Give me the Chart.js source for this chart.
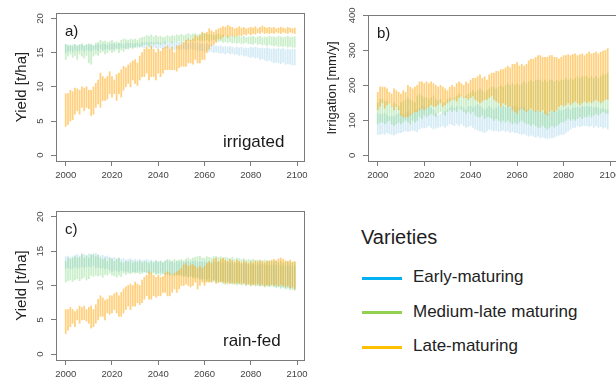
<!DOCTYPE html>
<html>
<head>
<meta charset="utf-8">
<script src="https://cdn.jsdelivr.net/npm/chart.js@4.4.1/dist/chart.umd.min.js"></script>
<style>
  html, body { margin: 0; padding: 0; background: #fff; }
  body { width: 616px; height: 382px; overflow: hidden; position: relative;
         font-family: Arial, "Liberation Sans", sans-serif; }
  canvas.panel { position: absolute; }
  .leg-title { position: absolute; left: 361px; top: 226px; font-size: 20px; line-height: 22px; color: #1e1e1e; }
  .leg-line  { position: absolute; left: 362px; width: 40px; height: 3px; }
  .leg-text  { position: absolute; left: 413px; font-size: 17px; line-height: 20px; color: #222; white-space: nowrap; }
</style>
</head>
<body>
<canvas id="panel-a" class="panel" width="310" height="190" style="left:0;top:0"></canvas>
<canvas id="panel-b" class="panel" width="310" height="190" style="left:310px;top:0"></canvas>
<canvas id="panel-c" class="panel" width="310" height="192" style="left:0;top:190px"></canvas>
<div id="legend"></div>

<script>
'use strict';

/* ── categories / ticks ── */
const YEARS = [];
for (let y = 2000; y <= 2099; y++) YEARS.push(y);
const X_TICKS     = [2000, 2020, 2040, 2060, 2080, 2100];
const YIELD_TICKS = [0, 5, 10, 15, 20];
const IRR_TICKS   = [0, 100, 200, 300, 400];
const VARIETIES   = ['Early-maturing', 'Medium-late maturing', 'Late-maturing'];

/* ── a) irrigated yield [t/ha], one row per decade ── */
const A_LATE_LO = [
  4.2, 4.5, 5.0, 5.2, 6.0, 6.5, 6.0, 7.0, 6.5, 7.0,
  6.8, 5.8, 6.0, 7.0, 7.5, 7.0, 8.0, 8.0, 8.2, 9.0,
  8.5, 9.0, 8.0, 9.0, 8.5, 9.5, 10.0, 10.5, 10.0, 11.0,
  10.5, 10.2, 11.0, 11.5, 11.5, 12.0, 11.0, 11.5, 11.5, 11.0,
  12.0, 11.5, 12.0, 12.5, 12.5, 12.5, 12.5, 12.5, 12.3, 12.8,
  13.0, 13.0, 13.0, 13.5, 13.5, 13.3, 14.0, 13.5, 13.5, 14.0,
  14.0, 15.0, 15.5, 16.0, 16.2, 16.5, 17.0, 17.0, 17.3, 17.5,
  17.2, 17.5, 17.5, 17.3, 17.5, 17.6, 17.5, 17.7, 17.6, 17.8,
  17.6, 17.8, 17.7, 17.9, 17.8, 18.0, 17.8, 17.9, 17.8, 17.9,
  17.8, 18.0, 17.9, 17.8, 18.0, 17.9, 17.8, 18.0, 17.9, 17.8
];
const A_LATE_HI = [
  9.0, 9.0, 9.5, 9.3, 9.8, 9.7, 9.5, 10.0, 9.8, 10.0,
  9.5, 9.5, 10.0, 10.5, 11.0, 12.0, 11.5, 11.2, 11.5, 12.2,
  11.5, 11.0, 11.8, 12.0, 12.5, 13.0, 12.8, 13.2, 13.5, 13.8,
  14.0, 13.5, 14.5, 15.0, 15.5, 15.8, 15.5, 16.0, 15.5, 15.0,
  15.5, 15.2, 15.6, 15.8, 16.0, 15.5, 15.8, 15.0, 16.0, 16.0,
  16.2, 16.5, 16.8, 17.0, 16.8, 17.0, 17.5, 17.3, 17.5, 18.0,
  17.8, 18.0, 18.5, 18.2, 18.0, 18.3, 18.5, 18.6, 18.8, 18.7,
  19.0, 18.8, 18.7, 18.5, 18.6, 18.8, 18.6, 18.7, 18.5, 18.6,
  18.7, 18.6, 18.8, 18.5, 18.7, 18.9, 18.7, 18.6, 18.7, 18.6,
  18.7, 18.5, 18.6, 18.7, 18.6, 18.5, 18.7, 18.6, 18.5, 18.6
];
const A_MED_LO = [
  14.0, 14.5, 14.8, 14.3, 14.6, 14.0, 14.8, 14.5, 14.2, 14.6,
  13.5, 13.3, 14.5, 14.8, 14.6, 15.0, 15.2, 14.8, 15.0, 15.3,
  15.0, 15.2, 15.5, 15.0, 15.4, 15.2, 15.6, 15.5, 15.8, 15.6,
  15.8, 16.0, 15.8, 16.0, 16.2, 16.2, 16.0, 16.3, 16.2, 16.4,
  16.3, 16.2, 16.5, 16.3, 16.6, 16.5, 16.4, 16.6, 16.5, 16.7,
  16.5, 16.7, 16.6, 16.8, 16.7, 16.8, 16.7, 16.9, 16.8, 16.8,
  16.8, 16.9, 16.7, 16.8, 16.9, 16.8, 16.6, 16.7, 16.5, 16.6,
  16.5, 16.6, 16.4, 16.5, 16.4, 16.5, 16.3, 16.4, 16.5, 16.3,
  16.3, 16.2, 16.4, 16.2, 16.3, 16.1, 16.2, 16.0, 16.2, 16.1,
  16.0, 16.1, 15.9, 16.0, 15.9, 16.0, 15.8, 15.9, 15.8, 15.8
];
const A_MED_HI = [
  16.2, 16.0, 16.1, 15.9, 16.2, 16.0, 16.1, 16.3, 16.0, 16.2,
  16.3, 16.2, 16.0, 16.4, 16.5, 16.8, 16.6, 16.7, 16.5, 16.6,
  16.8, 16.5, 16.6, 16.4, 16.8, 17.0, 16.9, 16.8, 17.0, 16.9,
  17.0, 16.8, 17.1, 17.2, 17.3, 17.5, 17.4, 17.6, 17.3, 17.5,
  17.3, 17.4, 17.2, 17.3, 17.5, 17.3, 17.5, 17.4, 17.6, 17.5,
  17.7, 17.5, 17.6, 17.8, 17.6, 17.7, 17.8, 17.6, 17.7, 17.8,
  17.8, 17.7, 17.6, 17.7, 17.5, 17.6, 17.7, 17.5, 17.6, 17.4,
  17.5, 17.4, 17.5, 17.3, 17.4, 17.5, 17.3, 17.4, 17.2, 17.3,
  17.3, 17.4, 17.2, 17.3, 17.4, 17.2, 17.3, 17.2, 17.4, 17.3,
  17.3, 17.2, 17.4, 17.3, 17.2, 17.3, 17.4, 17.2, 17.3, 17.3
];
const A_EARLY_LO = [
  15.0, 15.2, 15.3, 15.1, 15.4, 15.2, 15.3, 15.5, 15.2, 15.4,
  15.3, 15.2, 15.4, 15.5, 15.3, 15.6, 15.4, 15.5, 15.6, 15.5,
  15.6, 15.5, 15.7, 15.6, 15.8, 15.7, 15.6, 15.8, 15.7, 15.8,
  15.8, 15.7, 15.9, 15.8, 15.7, 15.9, 15.8, 15.6, 15.8, 15.7,
  15.6, 15.7, 15.5, 15.6, 15.7, 15.5, 15.6, 15.4, 15.6, 15.5,
  15.5, 15.6, 15.4, 15.5, 15.6, 15.4, 15.5, 15.3, 15.4, 15.3,
  15.2, 15.3, 15.1, 15.2, 15.0, 15.1, 15.0, 14.9, 15.0, 14.8,
  15.0, 14.8, 14.9, 14.7, 14.8, 14.6, 14.7, 14.5, 14.6, 14.4,
  14.3, 14.4, 14.2, 14.3, 14.0, 14.1, 13.9, 13.8, 13.9, 13.7,
  13.5, 13.6, 13.5, 13.4, 13.6, 13.3, 13.4, 13.3, 13.2, 13.2
];
const A_EARLY_HI = [
  16.2, 16.1, 16.0, 16.2, 16.1, 16.0, 16.2, 16.1, 16.0, 16.1,
  16.1, 16.2, 16.0, 16.1, 16.2, 16.1, 16.3, 16.2, 16.1, 16.3,
  16.2, 16.3, 16.2, 16.4, 16.3, 16.2, 16.4, 16.3, 16.4, 16.3,
  16.3, 16.4, 16.3, 16.5, 16.4, 16.5, 16.4, 16.5, 16.4, 16.5,
  16.5, 16.4, 16.5, 16.6, 16.5, 16.4, 16.6, 16.5, 16.4, 16.5,
  16.5, 16.4, 16.5, 16.3, 16.4, 16.5, 16.3, 16.4, 16.2, 16.3,
  16.2, 16.3, 16.1, 16.2, 16.0, 16.0, 15.9, 16.0, 15.8, 15.9,
  15.8, 15.9, 15.8, 15.7, 15.8, 15.7, 15.8, 15.6, 15.7, 15.6,
  15.8, 15.7, 15.8, 15.7, 15.6, 15.7, 15.6, 15.7, 15.6, 15.5,
  15.6, 15.5, 15.6, 15.5, 15.6, 15.4, 15.5, 15.4, 15.5, 15.5
];

/* ── b) irrigation [mm/y] ── */
const B_LATE_LO = [
  130, 140, 150, 135, 145, 150, 140, 130, 140, 130,
  115, 110, 110, 110, 115, 120, 125, 125, 130, 135,
  130, 135, 140, 145, 140, 140, 145, 150, 140, 145,
  150, 155, 160, 160, 155, 165, 170, 165, 165, 160,
  165, 170, 160, 155, 150, 155, 160, 160, 165, 170,
  160, 155, 150, 140, 150, 145, 140, 140, 130, 125,
  120, 130, 135, 130, 125, 130, 135, 130, 125, 130,
  125, 130, 120, 115, 125, 130, 125, 130, 140, 145,
  140, 145, 150, 145, 150, 155, 150, 145, 150, 155,
  150, 155, 150, 155, 160, 155, 150, 155, 160, 160
];
const B_LATE_HI = [
  180, 195, 195, 195, 190, 180, 175, 190, 185, 180,
  175, 185, 180, 200, 195, 190, 195, 200, 210, 210,
  205, 210, 205, 210, 205, 200, 195, 200, 195, 190,
  185, 195, 200, 195, 205, 210, 205, 200, 210, 205,
  215, 220, 220, 225, 230, 220, 225, 215, 230, 235,
  235, 240, 240, 245, 245, 250, 255, 250, 260, 260,
  265, 255, 260, 255, 260, 270, 275, 275, 280, 285,
  285, 280, 280, 280, 285, 285, 280, 280, 275, 280,
  285, 285, 288, 285, 288, 290, 285, 288, 290, 285,
  290, 295, 290, 292, 295, 290, 295, 298, 300, 305
];
const B_MED_LO = [
  90, 95, 95, 90, 95, 100, 90, 85, 90, 95,
  90, 95, 100, 95, 90, 100, 95, 100, 110, 105,
  115, 110, 115, 120, 115, 110, 120, 125, 120, 115,
  125, 130, 125, 130, 125, 135, 130, 125, 120, 125,
  120, 125, 115, 110, 110, 115, 105, 110, 110, 105,
  100, 105, 100, 95, 100, 95, 100, 95, 90, 95,
  90, 95, 100, 95, 90, 90, 85, 90, 85, 80,
  80, 85, 80, 75, 80, 85, 80, 85, 90, 95,
  95, 100, 105, 100, 105, 100, 105, 110, 105, 110,
  110, 115, 110, 115, 120, 115, 120, 125, 120, 120
];
const B_MED_HI = [
  150, 160, 160, 155, 155, 150, 140, 150, 145, 140,
  150, 155, 160, 165, 160, 155, 150, 170, 175, 170,
  165, 165, 160, 165, 170, 160, 155, 160, 150, 150,
  160, 165, 160, 165, 170, 175, 170, 165, 170, 175,
  180, 185, 180, 185, 190, 185, 180, 185, 190, 195,
  195, 190, 195, 200, 195, 200, 205, 200, 205, 200,
  205, 200, 205, 210, 205, 210, 215, 210, 215, 215,
  215, 210, 215, 210, 215, 215, 210, 215, 210, 215,
  215, 220, 215, 220, 215, 220, 225, 220, 225, 225,
  225, 220, 225, 220, 225, 220, 225, 230, 230, 235
];
const B_EARLY_LO = [
  60, 60, 62, 60, 65, 62, 60, 58, 62, 65,
  65, 68, 70, 68, 70, 72, 70, 68, 75, 80,
  78, 80, 85, 80, 75, 78, 80, 82, 85, 80,
  85, 90, 88, 85, 90, 85, 90, 85, 80, 82,
  85, 80, 75, 72, 70, 68, 65, 70, 75, 72,
  70, 72, 68, 70, 72, 68, 70, 65, 68, 65,
  65, 62, 60, 62, 58, 55, 58, 55, 52, 55,
  50, 52, 50, 48, 50, 50, 52, 55, 58, 60,
  60, 65, 70, 75, 80, 80, 85, 82, 85, 85,
  85, 82, 85, 80, 85, 80, 82, 78, 80, 75
];
const B_EARLY_HI = [
  120, 115, 118, 120, 115, 110, 112, 110, 115, 120,
  118, 115, 120, 125, 120, 118, 125, 130, 135, 140,
  140, 135, 140, 135, 130, 120, 115, 118, 120, 125,
  130, 135, 140, 135, 140, 135, 140, 135, 130, 140,
  140, 135, 140, 145, 140, 135, 130, 135, 140, 135,
  130, 135, 140, 135, 140, 138, 140, 135, 140, 138,
  140, 135, 138, 135, 132, 130, 128, 130, 125, 128,
  125, 122, 125, 120, 122, 125, 128, 125, 130, 128,
  130, 132, 135, 130, 135, 135, 138, 135, 140, 138,
  140, 138, 140, 135, 138, 135, 132, 135, 130, 130
];

/* ── c) rain-fed yield [t/ha] ── */
const C_LATE_LO = [
  3.0, 3.5, 4.0, 4.5, 4.0, 5.0, 4.5, 5.0, 5.0, 4.8,
  4.5, 3.8, 4.0, 4.5, 5.0, 5.5, 5.5, 5.0, 6.0, 5.8,
  6.0, 6.5, 6.0, 5.5, 5.5, 6.0, 6.5, 7.0, 6.5, 7.0,
  7.0, 7.5, 7.2, 7.5, 8.0, 8.5, 8.0, 8.0, 8.5, 8.3,
  8.5, 8.5, 9.0, 9.0, 8.5, 8.5, 9.0, 9.5, 9.0, 9.5,
  10.0, 10.0, 10.2, 10.0, 9.8, 10.0, 10.5, 9.5, 10.0, 10.5,
  10.0, 10.5, 10.5, 10.5, 10.8, 10.3, 10.5, 10.6, 10.5, 10.2,
  10.5, 10.3, 10.4, 10.2, 10.5, 10.3, 10.2, 10.4, 10.1, 10.3,
  10.0, 10.2, 10.1, 10.3, 10.0, 10.2, 9.9, 10.1, 10.0, 10.2,
  10.0, 10.1, 9.9, 10.2, 10.0, 9.8, 10.0, 9.7, 9.8, 9.5
];
const C_LATE_HI = [
  6.5, 6.5, 6.8, 6.5, 6.2, 6.5, 7.0, 6.8, 7.0, 6.5,
  6.8, 7.0, 6.5, 7.2, 8.0, 8.5, 8.2, 7.8, 8.0, 8.5,
  8.5, 8.8, 9.0, 8.5, 9.0, 9.5, 9.8, 10.0, 10.2, 10.0,
  10.5, 10.2, 10.0, 10.8, 11.2, 11.5, 12.0, 11.8, 11.5, 11.2,
  11.5, 11.2, 11.3, 11.8, 12.0, 11.8, 11.5, 11.8, 12.0, 12.2,
  12.5, 13.0, 13.2, 12.8, 13.0, 13.0, 12.8, 12.5, 12.8, 12.5,
  12.8, 13.2, 13.5, 13.2, 13.8, 14.0, 13.5, 13.8, 14.0, 13.7,
  13.5, 13.8, 13.6, 13.4, 13.7, 13.5, 13.3, 13.6, 13.4, 13.2,
  13.5, 13.3, 13.6, 13.4, 13.7, 13.5, 13.3, 13.6, 13.5, 13.7,
  13.8, 13.6, 13.9, 14.0, 13.8, 13.6, 13.5, 13.7, 13.4, 13.5
];
const C_MED_LO = [
  10.5, 10.7, 10.8, 10.6, 10.8, 11.0, 10.7, 11.0, 11.2, 10.8,
  11.0, 11.5, 11.3, 11.5, 11.4, 11.5, 11.2, 11.6, 11.5, 11.8,
  11.5, 11.4, 11.2, 11.5, 11.3, 11.8, 11.6, 11.8, 11.7, 11.9,
  11.8, 11.9, 11.7, 11.8, 12.0, 11.8, 11.9, 11.7, 11.8, 11.6,
  11.7, 11.5, 11.8, 11.6, 11.7, 11.5, 11.6, 11.4, 11.6, 11.5,
  11.5, 11.3, 11.4, 11.2, 11.3, 11.2, 11.0, 11.1, 10.8, 10.9,
  10.5, 10.7, 10.6, 10.5, 10.6, 10.5, 10.4, 10.5, 10.3, 10.4,
  10.2, 10.3, 10.2, 10.3, 10.1, 10.2, 10.1, 10.2, 10.0, 10.1,
  10.0, 10.1, 9.9, 10.0, 9.9, 10.0, 9.8, 9.9, 9.8, 9.9,
  9.8, 9.7, 9.8, 9.6, 9.7, 9.5, 9.6, 9.4, 9.4, 9.3
];
const C_MED_HI = [
  13.5, 14.0, 13.8, 14.0, 14.2, 14.0, 14.1, 14.5, 14.0, 14.3,
  14.0, 14.5, 14.6, 14.2, 14.4, 14.0, 13.8, 14.0, 13.5, 14.0,
  13.8, 13.5, 13.8, 14.0, 13.4, 13.3, 13.5, 13.4, 13.6, 13.3,
  13.5, 13.4, 13.6, 13.3, 13.5, 13.4, 13.2, 13.5, 13.3, 13.6,
  13.4, 13.5, 13.3, 13.6, 13.8, 13.7, 13.5, 13.8, 13.6, 13.7,
  13.8, 13.6, 13.9, 14.0, 13.8, 14.0, 14.1, 14.2, 14.3, 14.0,
  14.0, 14.2, 14.1, 14.0, 14.2, 14.3, 14.1, 14.2, 14.0, 14.1,
  14.0, 13.9, 14.1, 13.8, 14.0, 13.9, 13.8, 13.9, 13.7, 13.8,
  13.7, 13.8, 13.6, 13.7, 13.5, 13.6, 13.7, 13.5, 13.6, 13.5,
  13.5, 13.6, 13.4, 13.5, 13.3, 13.4, 13.5, 13.3, 13.4, 13.3
];
const C_EARLY_LO = [
  12.5, 12.6, 12.4, 12.5, 12.7, 12.5, 12.6, 12.8, 12.6, 12.7,
  12.8, 12.7, 12.9, 12.6, 12.7, 12.5, 12.6, 12.4, 12.5, 12.3,
  12.0, 12.2, 12.1, 12.0, 12.2, 12.1, 12.0, 12.1, 11.9, 12.0,
  12.0, 11.9, 12.1, 12.0, 11.9, 12.0, 11.8, 11.9, 12.0, 11.8,
  11.8, 11.9, 11.7, 11.8, 11.6, 11.7, 11.5, 11.6, 11.5, 11.6,
  11.5, 11.4, 11.5, 11.3, 11.4, 11.2, 11.3, 11.1, 11.2, 11.0,
  11.0, 10.9, 11.0, 10.8, 10.9, 10.7, 10.8, 10.6, 10.7, 10.5,
  10.5, 10.6, 10.4, 10.5, 10.3, 10.4, 10.5, 10.3, 10.4, 10.2,
  10.3, 10.2, 10.3, 10.1, 10.2, 10.0, 10.1, 10.2, 10.0, 10.1,
  10.0, 9.9, 10.0, 9.8, 9.9, 9.7, 9.8, 9.6, 9.7, 9.5
];
const C_EARLY_HI = [
  14.2, 14.3, 14.1, 14.2, 14.4, 14.5, 14.3, 14.6, 14.5, 14.4,
  14.6, 14.5, 14.4, 14.7, 14.5, 14.3, 14.4, 14.2, 14.3, 14.1,
  14.0, 14.1, 13.9, 14.0, 13.8, 13.9, 13.7, 13.8, 13.9, 13.7,
  13.8, 13.7, 13.8, 13.6, 13.7, 13.8, 13.6, 13.7, 13.5, 13.6,
  13.5, 13.6, 13.4, 13.5, 13.6, 13.4, 13.5, 13.3, 13.5, 13.4,
  13.5, 13.4, 13.6, 13.5, 13.4, 13.5, 13.6, 13.4, 13.5, 13.4,
  13.5, 13.4, 13.3, 13.5, 13.4, 13.3, 13.4, 13.2, 13.3, 13.4,
  13.3, 13.2, 13.3, 13.1, 13.2, 13.3, 13.1, 13.2, 13.0, 13.1,
  13.0, 13.1, 13.0, 12.9, 13.0, 13.1, 12.9, 13.0, 12.9, 13.0,
  13.0, 12.9, 13.0, 12.8, 12.9, 12.8, 12.9, 12.7, 12.8, 12.8
];

/* ── estilos ── */
const FONT = 'Arial, "Liberation Sans", sans-serif';
const BAR_COLORS    = ['rgba(150,205,230,0.40)', 'rgba(130,215,130,0.42)', 'rgba(255,170,20,0.55)'];
const LEGEND_COLORS = ['#00b0f0', '#92d050', '#ffc000'];
const AXIS_GREY = '#7a7a7a';

function rangos(lo, hi) {
  return YEARS.map((y, i) => ({ x: y, y: [lo[i], hi[i]] }));
}

/* caja estilo R, etiquetas Y giradas, letra del panel y nota */
const cajaR = {
  id: 'cajaR',
  afterDraw(chart, args, o) {
    const { ctx, chartArea: a } = chart;
    ctx.save();
    ctx.strokeStyle = AXIS_GREY;
    ctx.lineWidth = 1;
    ctx.strokeRect(Math.round(a.left) + 0.5, Math.round(a.top) + 0.5,
                   Math.round(a.right - a.left), Math.round(a.bottom - a.top));

    const ys = chart.scales.y;
    ctx.fillStyle = '#444';
    ctx.font = '9.5px ' + FONT;
    ctx.textAlign = 'center';
    ctx.textBaseline = 'middle';
    ys.ticks.forEach(t => {
      ctx.save();
      ctx.translate(a.left - 16, ys.getPixelForValue(t.value));
      ctx.rotate(-Math.PI / 2);
      ctx.fillText(String(t.value), 0, 0);
      ctx.restore();
    });

    ctx.fillStyle = '#1a1a1a';
    ctx.textAlign = 'left';
    ctx.font = '15px ' + FONT;
    ctx.fillText(o.letra, a.left + 9, a.top + 19);
    if (o.nota) {
      ctx.font = '17px ' + FONT;
      ctx.textBaseline = 'alphabetic';
      ctx.fillText(o.nota, a.left + 167, a.bottom - 14);
    }
    ctx.restore();
  }
};

function panel(id, cfg) {
  const datasets = [
    { label: VARIETIES[0], data: rangos(cfg.early[0], cfg.early[1]), backgroundColor: BAR_COLORS[0], order: 3 },
    { label: VARIETIES[1], data: rangos(cfg.med[0],   cfg.med[1]),   backgroundColor: BAR_COLORS[1], order: 2 },
    { label: VARIETIES[2], data: rangos(cfg.late[0],  cfg.late[1]),  backgroundColor: BAR_COLORS[2], order: 1 }
  ];
  datasets.forEach(d => { d.barThickness = 1.1; d.grouped = false; d.borderWidth = 0; });

  return new Chart(document.getElementById(id), {
    type: 'bar',
    data: { datasets },
    plugins: [cajaR],
    options: {
      responsive: false,
      animation: false,
      devicePixelRatio: 1,
      layout: { padding: cfg.pad },
      plugins: {
        legend: { display: false },
        tooltip: { enabled: false },
        cajaR: { letra: cfg.letra, nota: cfg.nota }
      },
      scales: {
        x: {
          type: 'linear', min: 1995.8, max: 2103, offset: false,
          afterBuildTicks: s => { s.ticks = X_TICKS.map(v => ({ value: v })); },
          afterFit: s => { s.height = cfg.xh; s.paddingLeft = 0; s.paddingRight = 0; },
          grid: { drawOnChartArea: false, offset: false, tickLength: 5, color: AXIS_GREY },
          border: { display: false },
          ticks: { color: '#444', font: { size: 9.5, family: FONT }, padding: 4,
                   maxRotation: 0, autoSkip: false, callback: v => String(v) }
        },
        y: {
          min: cfg.ymin, max: cfg.ymax,
          afterBuildTicks: s => { s.ticks = cfg.yticks.map(v => ({ value: v })); },
          afterFit: s => { s.width = cfg.yw; s.paddingTop = 0; s.paddingBottom = 0; },
          grid: { drawOnChartArea: false, tickLength: 5, color: AXIS_GREY },
          border: { display: false },
          ticks: { display: false },
          title: { display: true, text: cfg.titulo, color: '#222',
                   font: { size: cfg.tsize, family: FONT }, padding: { top: cfg.tpad, bottom: 0 } }
        }
      }
    }
  });
}

panel('panel-a', {
  letra: 'a)', nota: 'irrigated', titulo: 'Yield [t/ha]', tsize: 15, tpad: 13,
  early: [A_EARLY_LO, A_EARLY_HI], med: [A_MED_LO, A_MED_HI], late: [A_LATE_LO, A_LATE_HI],
  ymin: -0.85, ymax: 20.8, yticks: YIELD_TICKS,
  pad: { top: 13, right: 6, left: 0, bottom: 0 }, yw: 56, xh: 29
});
panel('panel-b', {
  letra: 'b)', nota: '', titulo: 'Irrigation [mm/y]', tsize: 13, tpad: 15,
  early: [B_EARLY_LO, B_EARLY_HI], med: [B_MED_LO, B_MED_HI], late: [B_LATE_LO, B_LATE_HI],
  ymin: -16, ymax: 401, yticks: IRR_TICKS,
  pad: { top: 15, right: 3, left: 0, bottom: 0 }, yw: 58, xh: 29
});
panel('panel-c', {
  letra: 'c)', nota: 'rain-fed', titulo: 'Yield [t/ha]', tsize: 15, tpad: 13,
  early: [C_EARLY_LO, C_EARLY_HI], med: [C_MED_LO, C_MED_HI], late: [C_LATE_LO, C_LATE_HI],
  ymin: -0.85, ymax: 20.85, yticks: YIELD_TICKS,
  pad: { top: 21, right: 6, left: 0, bottom: 0 }, yw: 56, xh: 22
});

/* ── leyenda ── */
const leg = document.getElementById('legend');
leg.innerHTML = '<div class="leg-title">Varieties</div>';
const LEG_Y = [278, 312.5, 347];
VARIETIES.forEach((name, i) => {
  leg.innerHTML +=
    `<div class="leg-line" style="top:${LEG_Y[i] - 1.5}px;background:${LEGEND_COLORS[i]}"></div>` +
    `<div class="leg-text" style="top:${LEG_Y[i] - 11}px">${name}</div>`;
});
</script>
</body>
</html>
